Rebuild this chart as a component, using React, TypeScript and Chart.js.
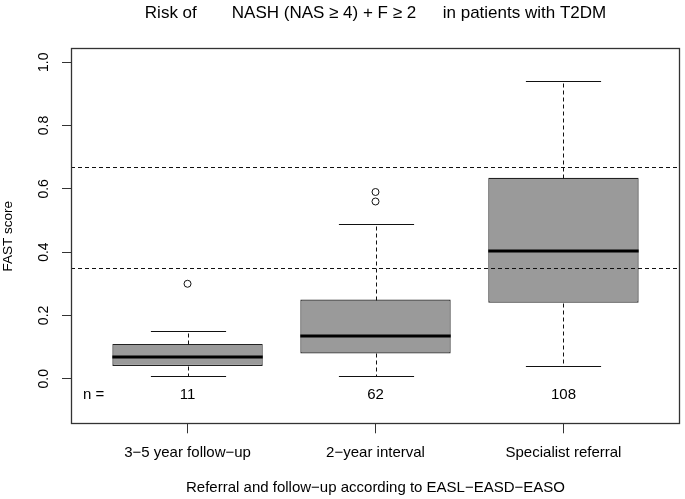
import React, { useEffect, useRef } from 'react';
import { Chart, registerables } from 'chart.js';

Chart.register(...registerables);

// ---- data ----
const categories = ['3\u22125 year follow\u2212up', '2\u2212year interval', 'Specialist referral'];
const counts = [11, 62, 108];
const whiskerLow = [0.01, 0.01, 0.04];
const q1 = [0.04, 0.08, 0.24];
const medians = [0.07, 0.135, 0.405];
const q3 = [0.11, 0.25, 0.635];
const whiskerHigh = [0.15, 0.49, 0.94];
const outliers = [[0.3], [0.56, 0.59], []];
const thresholds = [0.35, 0.67];
const yTicks = [0, 0.2, 0.4, 0.6, 0.8, 1.0];
const titleParts = ['Risk of', 'NASH (NAS \u2265 4) + F \u2265 2', 'in patients with T2DM'];
const xTitle = 'Referral and follow\u2212up according to EASL\u2212EASD\u2212EASO';
const yTitle = 'FAST score';
const nLabelY = -0.052;

const FONT = '"Liberation Sans", Arial, Helvetica, sans-serif';

const boxPlugin = {
  id: 'boxExtras',
  afterDatasetsDraw(chart: any) {
    const { ctx, chartArea, scales } = chart;
    const xs = scales.x;
    const ys = scales.y;
    const meta = chart.getDatasetMeta(0);
    const py = (v: number) => Math.round(ys.getPixelForValue(v)) + 0.5;
    ctx.save();
    categories.forEach((_, i) => {
      const bar: any = meta.data[i];
      const cx = Math.round(xs.getPixelForValue(i + 1)) + 0.5;
      const half = bar.width / 2;
      // whiskers (dashed)
      ctx.strokeStyle = '#111';
      ctx.lineWidth = 1;
      ctx.setLineDash([4, 3]);
      ctx.beginPath();
      ctx.moveTo(cx, py(q3[i]));
      ctx.lineTo(cx, py(whiskerHigh[i]));
      ctx.moveTo(cx, py(q1[i]));
      ctx.lineTo(cx, py(whiskerLow[i]));
      ctx.stroke();
      ctx.setLineDash([]);
      // staples
      ctx.beginPath();
      [whiskerHigh[i], whiskerLow[i]].forEach((v) => {
        ctx.moveTo(cx - half / 2, py(v));
        ctx.lineTo(cx + half / 2, py(v));
      });
      ctx.stroke();
      // median
      ctx.lineWidth = 3;
      ctx.strokeStyle = '#000';
      ctx.beginPath();
      const ym = Math.round(ys.getPixelForValue(medians[i]));
      ctx.moveTo(bar.x - half, ym);
      ctx.lineTo(bar.x + half, ym);
      ctx.stroke();
    });
    // threshold lines
    ctx.lineWidth = 1;
    ctx.strokeStyle = '#111';
    ctx.setLineDash([4, 3]);
    thresholds.forEach((t) => {
      ctx.beginPath();
      ctx.moveTo(chartArea.left, py(t));
      ctx.lineTo(chartArea.right, py(t));
      ctx.stroke();
    });
    ctx.setLineDash([]);
    // n labels
    ctx.fillStyle = '#000';
    ctx.font = `15px ${FONT}`;
    ctx.textAlign = 'center';
    ctx.textBaseline = 'middle';
    const yN = ys.getPixelForValue(nLabelY);
    ctx.fillText('n =', xs.getPixelForValue(0.5), yN);
    counts.forEach((c, i) => {
      ctx.fillText(String(c), xs.getPixelForValue(i + 1), yN);
    });
    ctx.restore();
  },
  afterDraw(chart: any) {
    const { ctx, chartArea } = chart;
    ctx.save();
    // frame
    ctx.strokeStyle = '#333';
    ctx.lineWidth = 1.3;
    const l = Math.round(chartArea.left) + 0.5;
    const t = Math.round(chartArea.top) + 0.5;
    const r = Math.round(chartArea.right) - 0.5;
    const b = Math.round(chartArea.bottom) - 0.5;
    ctx.strokeRect(l, t, r - l, b - t);
    // title
    ctx.font = `17px ${FONT}`;
    ctx.fillStyle = '#000';
    ctx.textBaseline = 'alphabetic';
    ctx.textAlign = 'left';
    const gaps = [35, 26.5];
    const widths = titleParts.map((s) => ctx.measureText(s).width);
    const total = widths.reduce((a, w) => a + w, 0) + gaps[0] + gaps[1];
    let x = (chartArea.left + chartArea.right) / 2 - total / 2;
    titleParts.forEach((s, i) => {
      ctx.fillText(s, x, 17.5);
      x += widths[i] + (gaps[i] || 0);
    });
    ctx.restore();
  },
};

export default function App() {
  const ref = useRef<HTMLCanvasElement | null>(null);
  useEffect(() => {
    document.body.style.margin = '0';
    const canvas = ref.current;
    if (!canvas) return;
    Chart.defaults.font.family = FONT;
    Chart.defaults.color = '#000';
    const outlierPoints: { x: number; y: number }[] = [];
    outliers.forEach((arr, i) => arr.forEach((v) => outlierPoints.push({ x: i + 1, y: v })));
    const chart = new Chart(canvas, {
      type: 'bar',
      data: {
        datasets: [
          {
            type: 'bar',
            data: categories.map((_, i) => ({ x: i + 1, y: [q1[i], q3[i]] })) as any,
            backgroundColor: '#9a9a9a',
            borderColor: '#222',
            borderWidth: 1.2,
            borderSkipped: false,
            categoryPercentage: 0.8,
            barPercentage: 1,
          } as any,
          {
            type: 'scatter',
            data: outlierPoints,
            pointRadius: 3.5,
            pointBorderWidth: 1,
            pointBackgroundColor: 'rgba(0,0,0,0)',
            pointBorderColor: '#111',
            showLine: false,
          } as any,
        ],
      },
      options: {
        animation: false,
        responsive: false,
        devicePixelRatio: 1,
        events: [],
        layout: { padding: { top: 48.3, right: 2.3, left: 0, bottom: 0 } },
        plugins: { legend: { display: false }, tooltip: { enabled: false }, title: { display: false } },
        scales: {
          x: {
            type: 'linear',
            min: 0.38,
            max: 3.62,
            offset: false,
            grid: { display: true, offset: false, drawOnChartArea: false, drawTicks: true, tickLength: 9, color: '#333' },
            border: { display: false },
            afterBuildTicks: (scale: any) => {
              scale.ticks = categories.map((_, i) => ({ value: i + 1 }));
            },
            afterFit: (scale: any) => {
              scale.height = 74.7;
            },
            ticks: {
              autoSkip: false,
              maxRotation: 0,
              padding: 11,
              font: { size: 15 },
              color: '#000',
              callback: (v: any) => categories[Math.round(Number(v)) - 1] ?? '',
            },
            title: { display: true, text: xTitle, font: { size: 15 }, color: '#000', padding: { top: 0, bottom: 1.7 } },
          },
          y: {
            type: 'linear',
            min: -0.144,
            max: 1.044,
            grid: { display: true, drawOnChartArea: false, drawTicks: true, tickLength: 9, color: '#333' },
            border: { display: false },
            afterBuildTicks: (scale: any) => {
              scale.ticks = yTicks.map((v) => ({ value: v }));
            },
            afterFit: (scale: any) => {
              scale.width = 71;
            },
            ticks: {
              autoSkip: false,
              minRotation: 90,
              maxRotation: 90,
              crossAlign: 'center',
              padding: 8.3,
              font: { size: 14 },
              color: '#000',
              callback: (v: any) => Number(v).toFixed(1),
            },
            title: { display: true, text: yTitle, font: { size: 13.5 }, color: '#000', padding: { top: 0.5, bottom: 0 } },
          },
        },
      } as any,
      plugins: [boxPlugin],
    });
    return () => chart.destroy();
  }, []);
  return (
    <div style={{ position: 'absolute', left: 0, top: 0, width: 685, height: 499 }}>
      <canvas ref={ref} width={685} height={499} />
    </div>
  );
}
